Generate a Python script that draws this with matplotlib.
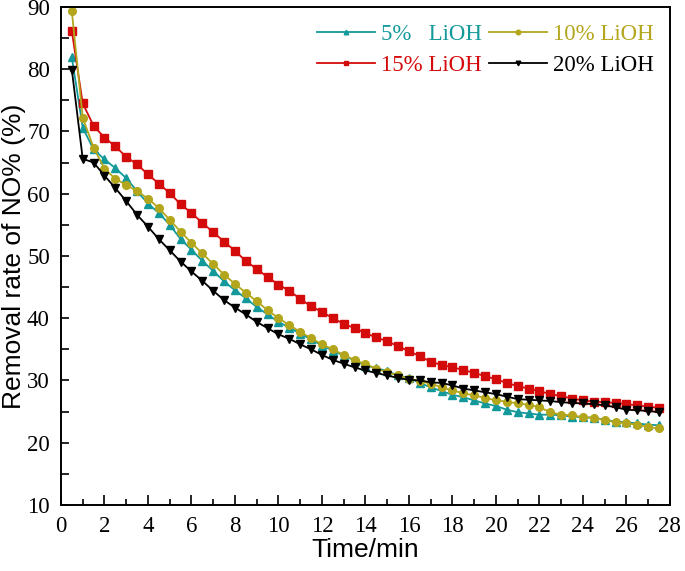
import numpy as np
import matplotlib
matplotlib.use("Agg")
import matplotlib.pyplot as plt
from matplotlib.ticker import MultipleLocator

# time axis, one reading every 0.5 min
time_min = np.arange(0.5, 27.51, 0.5)

lioh_5 = [81.9, 70.6, 67.1, 65.5, 64.1, 62.5, 60.4, 58.4, 56.9, 55.0,
          52.7, 51.0, 49.2, 47.6, 45.9, 44.5, 43.2, 41.8, 40.6, 39.4,
          38.5, 37.5, 36.6, 35.6, 34.8, 34.0, 33.2, 32.4, 32.0, 31.5,
          30.8, 30.4, 29.6, 28.9, 28.3, 27.7, 27.3, 26.8, 26.3, 25.9,
          25.3, 24.9, 24.7, 24.5, 24.5, 24.4, 24.2, 24.1, 24.0, 23.7,
          23.4, 23.3, 23.1, 22.9, 22.8]
lioh_10 = [89.3, 72.2, 67.4, 64.0, 62.4, 61.4, 60.4, 59.2, 57.7, 55.8,
           53.9, 52.1, 50.4, 48.7, 47.0, 45.5, 44.1, 42.7, 41.3, 40.0,
           38.9, 37.8, 36.8, 35.8, 35.0, 34.1, 33.3, 32.6, 31.9, 31.3,
           30.8, 30.3, 29.9, 29.5, 28.9, 28.4, 27.95, 27.6, 27.2, 26.8,
           26.6, 26.3, 26.1, 25.7, 24.9, 24.5, 24.4, 24.1, 24.0, 23.6,
           23.3, 23.1, 22.9, 22.5, 22.3]
lioh_15 = [86.1, 74.5, 70.9, 69.0, 67.6, 65.9, 64.7, 63.1, 61.6, 60.1,
           58.3, 56.9, 55.3, 53.8, 52.3, 50.8, 49.2, 47.9, 46.6, 45.4,
           44.4, 43.1, 41.9, 41.0, 40.0, 39.1, 38.4, 37.6, 36.9, 36.3,
           35.5, 34.7, 33.9, 33.0, 32.5, 32.1, 31.7, 31.2, 30.7, 30.2,
           29.6, 29.1, 28.7, 28.3, 27.8, 27.5, 27.1, 26.8, 26.6, 26.5,
           26.4, 26.2, 26.0, 25.8, 25.6]
lioh_20 = [79.9, 65.6, 65.0, 62.9, 60.9, 58.8, 56.6, 54.7, 52.7, 50.9,
           49.1, 47.5, 46.0, 44.4, 42.9, 41.7, 40.6, 39.4, 38.4, 37.4,
           36.7, 35.8, 35.0, 34.1, 33.3, 32.7, 32.1, 31.6, 31.2, 30.8,
           30.4, 30.1, 30.0, 29.7, 29.6, 29.2, 28.7, 28.4, 28.1, 27.8,
           27.4, 27.0, 26.9, 26.8, 26.7, 26.5, 26.4, 26.3, 26.2, 26.0,
           25.7, 25.3, 25.2, 25.1, 24.9]

# legend fills column by column, so order is 5, 15 | 10, 20
series = [
    ("5%   LiOH", lioh_5, "#14999a", "^"),
    ("15% LiOH", lioh_15, "#d40b0b", "s"),
    ("10% LiOH", lioh_10, "#b3a61c", "o"),
    ("20% LiOH", lioh_20, "#000000", "v"),
]

serif = "Liberation Serif"
sans = "Liberation Sans"

fig = plt.figure(figsize=(6.85, 5.71), dpi=100)
ax = fig.add_axes([0.089, 0.1156, 0.889, 0.8724])

for label, vals, color, marker in series:
    ax.plot(time_min, vals, color=color, marker=marker, markersize=5.5,
            linewidth=1.3, label=label)

ax.set_xlim(0, 28)
ax.set_ylim(10, 90)
ax.xaxis.set_major_locator(MultipleLocator(2))
ax.xaxis.set_minor_locator(MultipleLocator(1))
ax.yaxis.set_major_locator(MultipleLocator(10))
ax.yaxis.set_minor_locator(MultipleLocator(5))
ax.tick_params(which="both", direction="in", top=False, right=False,
               width=1.2, labelsize=16.5)
ax.tick_params(axis="x", which="major", length=7, pad=8)
ax.tick_params(axis="x", which="minor", length=4)
ax.tick_params(axis="y", which="major", length=6, pad=8)
ax.tick_params(axis="y", which="minor", length=6)
for lab in ax.get_xticklabels() + ax.get_yticklabels():
    lab.set_fontfamily(serif)
for sp in ax.spines.values():
    sp.set_linewidth(1.4)

ax.set_xlabel("Time/min", fontfamily=sans, fontsize=19, labelpad=1)
ax.set_ylabel("Removal rate of NO% (%)", fontfamily=sans, fontsize=19,
              labelpad=1)

leg = ax.legend(ncol=2, loc="upper right", bbox_to_anchor=(0.997, 0.993),
                frameon=False, prop={"family": serif, "size": 16.5},
                labelcolor="linecolor", handlelength=2.5, handletextpad=0.3,
                columnspacing=0.3, labelspacing=0.45, markerscale=0.6,
                borderaxespad=0.2)

plt.savefig("out.png", dpi=100)
plt.close()
